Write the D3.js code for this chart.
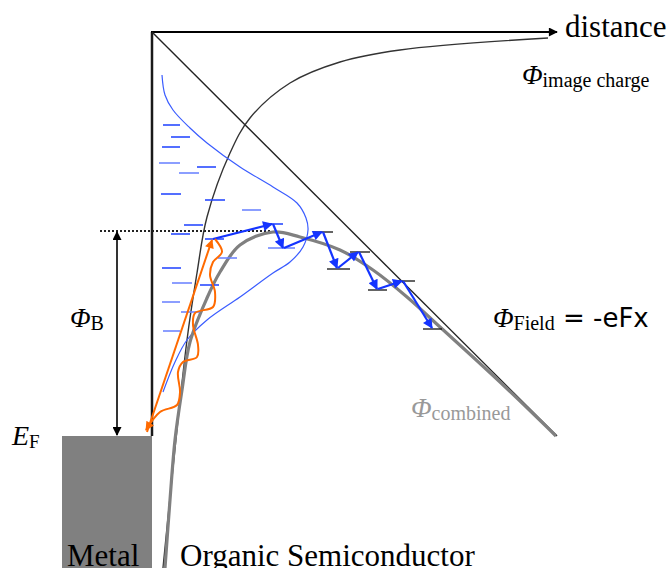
<!DOCTYPE html>
<html>
<head>
<meta charset="utf-8">
<script src="https://cdn.jsdelivr.net/npm/d3@7"></script>
<style>
  body { margin: 0; background: #fff; }
  text { font-family: "Liberation Serif", "DejaVu Serif", serif; }
</style>
</head>
<body>
<div id="chart"></div>
<script>
// schematic energy diagram, values in "distance" / "energy" units
// distance 0 = metal interface, energy 0 = Fermi level
var width = 672, height = 568;

var imageCharge = [[11,-132],[35,96],[45,163],[55,219],[78,283],[98,318],[138,353],[188,374],[248,386],[396,398]];
var fieldLine = [[0,404],[405,0]];
var combined = [[13,-132],[18,-64],[23,-4],[30,46],[38,94],[55,138],[68,164],[88,191],[121,204],[148,199],[188,186],[221,166],[255,139],[288,109],[348,54],[404,0]];
var dos = [[10,361],[13,341],[21,326],[38,308],[55,293],[88,269],[121,249],[145,233],[154,218],[156,206],[151,189],[138,174],[121,163],[88,139],[55,116],[35,96],[23,74],[11,44]];

// localized states [x1, x2, energy, shade]
var states = [
  [11,28,311,0],[19,38,299,0],[10,28,289,0],[7,28,273,1],[45,64,269,0],[27,47,263,1],
  [9,29,242,0],[53,73,236,0],[90,109,226,1],[32,51,211,0],[19,38,202,0],[53,72,197,0],
  [66,85,178,1],[10,29,168,0],[20,40,153,1],[48,67,151,0],[10,28,134,1],[29,48,124,1],
  [11,28,105,1],[113,131,212,0],[116,143,188,1]
];
var fieldStates = [[161,181,204],[175,198,167],[198,218,184],[216,235,146],[241,263,155],[271,290,107]];

// hopping path (blue)
var hops = [[60,197],[120,212],[131,188],[170,204],[185,168],[206,184],[225,147],[250,155],[280,108]];
var injection = [[-5,4],[60,196]];
var wave = [[63,197],[70,184],[61,174],[58,161],[63,144],[61,129],[43,123],[41,111],[46,91],[45,79],[31,74],[26,64],[28,44],[25,31],[8,24],[-6,6]];

var barrier = 205;
var metalLeft = -90, bottom = -132;

var x = d3.scaleLinear().domain([0, 405]).range([152, 557]);
var y = d3.scaleLinear().domain([0, 404]).range([436, 32]);

var svg = d3.select("#chart").append("svg")
  .attr("width", width).attr("height", height);

var defs = svg.append("defs");
function marker(id, color, len, wid) {
  defs.append("marker").attr("id", id)
    .attr("viewBox", "0 -5 10 10").attr("refX", 9).attr("refY", 0)
    .attr("markerUnits", "userSpaceOnUse")
    .attr("markerWidth", len).attr("markerHeight", wid)
    .attr("orient", "auto-start-reverse")
    .append("path").attr("d", "M0,-5L10,0L0,5Z").attr("fill", color);
}
marker("blue", "#1434ff", 11, 10);
marker("orange", "#ff6a00", 11, 9);
marker("black", "#000", 10, 9);

var line = d3.line().x(function(d) { return x(d[0]); }).y(function(d) { return y(d[1]); })
  .curve(d3.curveCatmullRom.alpha(0.5));
var straight = d3.line().x(function(d) { return x(d[0]); }).y(function(d) { return y(d[1]); });

// metal block
svg.append("rect").attr("x", x(metalLeft)).attr("y", y(0))
  .attr("width", x(0) - x(metalLeft)).attr("height", y(bottom) - y(0))
  .attr("fill", "#808080");

// barrier marker
svg.append("line").attr("x1", x(-52)).attr("x2", x(120)).attr("y1", y(barrier)).attr("y2", y(barrier))
  .attr("stroke", "#222").attr("stroke-width", 2).attr("stroke-dasharray", "2,2");
svg.append("line").attr("x1", x(-35)).attr("x2", x(-35)).attr("y1", y(barrier) + 1).attr("y2", y(0) - 1)
  .attr("stroke", "#000").attr("stroke-width", 1.6)
  .attr("marker-start", "url(#black)").attr("marker-end", "url(#black)");

// axes
svg.append("line").attr("x1", x(0)).attr("x2", x(0)).attr("y1", y(0)).attr("y2", y(404))
  .attr("stroke", "#1a1a1a").attr("stroke-width", 2.5);
svg.append("line").attr("x1", x(0) - 1).attr("x2", x(405)).attr("y1", y(404)).attr("y2", y(404))
  .attr("stroke", "#000").attr("stroke-width", 2.2).attr("marker-end", "url(#black)");

// field line and image charge
svg.append("path").attr("d", straight(fieldLine)).attr("fill", "none")
  .attr("stroke", "#222").attr("stroke-width", 1.4);
svg.append("path").attr("d", line(imageCharge)).attr("fill", "none")
  .attr("stroke", "#333").attr("stroke-width", 1.4);

// density of states
svg.append("path").attr("d", line(dos)).attr("fill", "none")
  .attr("stroke", "#3a5cff").attr("stroke-width", 1.2);

// combined potential
svg.append("path").attr("d", line(combined)).attr("fill", "none")
  .attr("stroke", "#808080").attr("stroke-width", 3.2);

// states
svg.selectAll(".state").data(states).enter().append("line")
  .attr("x1", function(d) { return x(d[0]); }).attr("x2", function(d) { return x(d[1]); })
  .attr("y1", function(d) { return y(d[2]); }).attr("y2", function(d) { return y(d[2]); })
  .attr("stroke", function(d) { return d[3] ? "#6f86ff" : "#2a4bff"; })
  .attr("stroke-width", 1.6);
svg.selectAll(".fstate").data(fieldStates).enter().append("line")
  .attr("x1", function(d) { return x(d[0]); }).attr("x2", function(d) { return x(d[1]); })
  .attr("y1", function(d) { return y(d[2]); }).attr("y2", function(d) { return y(d[2]); })
  .attr("stroke", "#111").attr("stroke-width", 1.3);

// hopping arrows
var hopSegs = d3.pairs(hops);
svg.selectAll(".hop").data(hopSegs).enter().append("line")
  .attr("x1", function(d) { return x(d[0][0]) + 1; }).attr("y1", function(d) { return y(d[0][1]); })
  .attr("x2", function(d) { return x(d[1][0]); }).attr("y2", function(d) { return y(d[1][1]); })
  .attr("stroke", "#1434ff").attr("stroke-width", 2.2).attr("marker-end", "url(#blue)");

// injection
svg.append("path").attr("d", straight(injection)).attr("fill", "none")
  .attr("stroke", "#ff6a00").attr("stroke-width", 2).attr("marker-end", "url(#orange)");
svg.append("path").attr("d", line(wave)).attr("fill", "none")
  .attr("stroke", "#ff6a00").attr("stroke-width", 2).attr("marker-end", "url(#orange)");

// labels
function label(px, py, main, sub, size, subSize, color, italic, extra) {
  var t = svg.append("text").attr("x", px).attr("y", py).attr("fill", color || "#000");
  t.append("tspan").text(main).attr("font-size", size).attr("font-style", italic ? "italic" : "normal");
  if (sub) t.append("tspan").text(sub).attr("font-size", subSize).attr("dy", 3);
  if (extra) t.append("tspan").text(extra).attr("font-size", 26).attr("dy", -3)
    .attr("font-family", "DejaVu Sans");
  return t;
}
label(565, 37, "distance", null, 31);
label(522, 84, "Φ", "image charge", 27, 20, "#000", true);
label(70, 327, "Φ", "B", 27, 20, "#000", true);
label(12, 445, "E", "F", 28, 19, "#000", true);
label(493, 327, "Φ", "Field", 27, 20, "#000", true, "\u00a0= -eFx");
label(411, 417, "Φ", "combined", 27, 20, "#999", true);
label(67, 566, "Metal", null, 31);
label(180, 566, "Organic Semiconductor", null, 31);
</script>
</body>
</html>
